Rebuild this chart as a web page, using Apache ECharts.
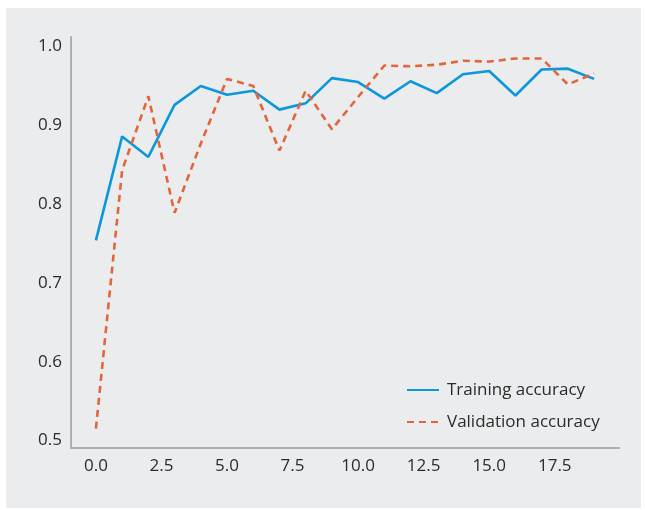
<!DOCTYPE html>
<html>
<head>
<meta charset="utf-8">
<script src="https://cdn.jsdelivr.net/npm/echarts@6/dist/echarts.min.js"></script>
<style>
html, body { margin: 0; padding: 0; background: #ffffff; width: 646px; height: 510px; overflow: hidden; }
#chart { position: absolute; left: 6px; top: 8px; width: 635px; height: 500px; background: #ebeced; }
</style>
</head>
<body>
<div id="chart"></div>
<script>
const epochs = [0, 1, 2, 3, 4, 5, 6, 7, 8, 9, 10, 11, 12, 13, 14, 15, 16, 17, 18, 19];
const trainingAccuracy = [0.754, 0.886, 0.860, 0.926, 0.950, 0.939, 0.944, 0.920, 0.928, 0.960, 0.955, 0.934, 0.956, 0.941, 0.965, 0.969, 0.938, 0.971, 0.972, 0.959];
const validationAccuracy = [0.515, 0.843, 0.937, 0.789, 0.877, 0.959, 0.950, 0.868, 0.944, 0.895, 0.936, 0.976, 0.975, 0.977, 0.982, 0.981, 0.985, 0.985, 0.952, 0.966];
const xTickValues = [0, 2.5, 5, 7.5, 10, 12.5, 15, 17.5];
const yTickValues = [0.5, 0.6, 0.7, 0.8, 0.9, 1.0];
const seriesNames = ['Training accuracy', 'Validation accuracy'];

const chart = echarts.init(document.getElementById('chart'), null, { renderer: 'canvas' });
const fontFamily = '"Open Sans", "Noto Sans", sans-serif';
const axisColor = '#aeafb0';
const textColor = '#2b2b2b';

chart.setOption({
  animation: false,
  backgroundColor: '#ebeced',
  grid: { left: 65, right: 22, top: 29, bottom: 60, containLabel: false },
  legend: {
    orient: 'vertical',
    left: 400,
    top: 372,
    padding: 0,
    itemWidth: 32,
    itemHeight: 14,
    itemGap: 12,
    itemStyle: { opacity: 0 },
    textStyle: { fontFamily: fontFamily, fontSize: 17, color: textColor, lineHeight: 20, padding: [0, 0, 0, 3] },
    data: seriesNames
  },
  xAxis: {
    type: 'value',
    min: -0.95,
    max: 19.95,
    axisLine: { show: true, onZero: false, lineStyle: { color: axisColor, width: 2 } },
    axisTick: { show: false },
    splitLine: { show: false },
    axisLabel: {
      customValues: xTickValues,
      formatter: v => v.toFixed(1),
      fontFamily: fontFamily, fontSize: 17, color: textColor, margin: 10
    }
  },
  yAxis: {
    type: 'value',
    min: 0.4905,
    max: 1.0122,
    axisLine: { show: true, onZero: false, lineStyle: { color: axisColor, width: 2 } },
    axisTick: { show: false },
    splitLine: { show: false },
    axisLabel: {
      customValues: yTickValues,
      formatter: v => v.toFixed(1),
      fontFamily: fontFamily, fontSize: 17, color: textColor, margin: 9
    }
  },
  series: [
    {
      name: seriesNames[0],
      type: 'line',
      data: epochs.map((e, i) => [e, trainingAccuracy[i]]),
      symbol: 'none',
      showSymbol: false,
      color: '#0b97da',
      lineStyle: { color: '#0b97da', width: 2.6 }
    },
    {
      name: seriesNames[1],
      type: 'line',
      data: epochs.map((e, i) => [e, validationAccuracy[i]]),
      symbol: 'none',
      showSymbol: false,
      color: '#e2653c',
      lineStyle: { color: '#e2653c', width: 2.6, type: [7, 5] }
    }
  ]
});
</script>
</body>
</html>
